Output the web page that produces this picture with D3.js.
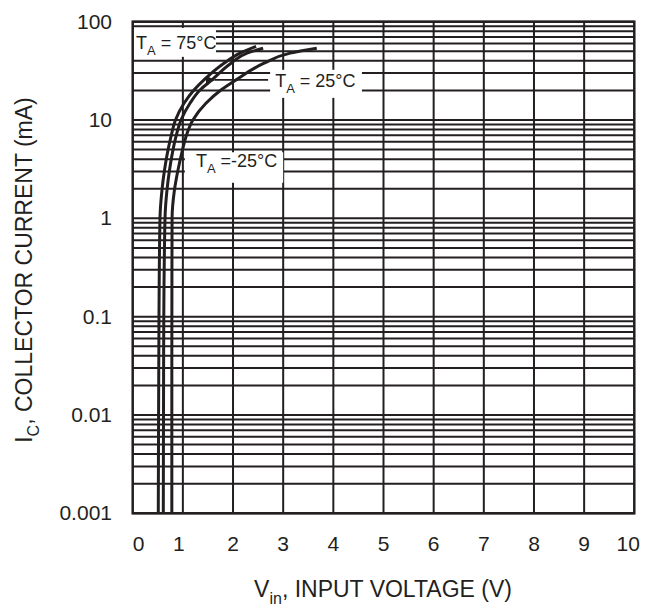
<!DOCTYPE html>
<html><head><meta charset="utf-8">
<script src="https://cdn.jsdelivr.net/npm/d3@7"></script>
<style>
html,body{margin:0;padding:0;background:#fff;}
text{font-family:Arial,"Liberation Sans",sans-serif;fill:#231f20;}
</style></head>
<body><svg id="chart" width="647" height="610"></svg>
<script>
// ---- data ----
const xTicks = [0,1,2,3,4,5,6,7,8,9,10];
const yTicks = [0.001,0.01,0.1,1,10,100];
const yTickLabels = ["0.001","0.01","0.1","1","10","100"];

// collector current (mA) read-off levels and input voltage (V) per curve
const currLevels = [0.001, 0.01, 0.1, 1, 1.95, 3.1, 4.97, 6.8, 10, 14.8, 20.2, 25.6, 37.8, 47.9];
const volt75  = [0.51, 0.516, 0.524, 0.544, 0.584, 0.634, 0.704, 0.764, 0.853, 1.023, 1.222, 1.421, 1.82, 2.14];
const volt25  = [0.61, 0.614, 0.620, 0.644, 0.684, 0.734, 0.803, 0.863, 0.963, 1.142, 1.342, 1.58,  1.96, 2.28];
const voltM25 = [0.78, 0.780, 0.781, 0.785, 0.833, 0.903, 0.993, 1.063, 1.20,  1.46,  1.76,  2.06,  2.62, 3.14];
// curve end points (V, mA)
const end75  = [2.46, 56.2];
const end25  = [2.60, 53.7];
const endM25 = [3.67, 53.7];

// ---- layout ----
const svg = d3.select("#chart");
const L = 132.7, R = 634.3, T = 21.7, B = 513.3;
const ink = "#231f20";
const x = d3.scaleLinear().domain([0,10]).range([L,R]);
const y = d3.scaleLog().domain([0.001,100]).range([B,T]);

// grid
const g = svg.append("g");
const minor = [];
[0.001,0.01,0.1,1,10].forEach(d=>{ for(let k=1;k<=9;k++) minor.push(k*d); });
minor.push(100);
g.selectAll("line.h").data(minor).join("line")
  .attr("x1",L).attr("x2",R).attr("y1",d=>y(d)).attr("y2",d=>y(d))
  .attr("stroke",ink).attr("stroke-width",2);
g.selectAll("line.v").data(xTicks.slice(1,-1)).join("line")
  .attr("y1",T).attr("y2",B).attr("x1",d=>x(d)).attr("x2",d=>x(d))
  .attr("stroke",ink).attr("stroke-width",2);

// annotation boxes (white, hide grid)
const boxes = [
  {x0:0.006, x1:1.66, y0:86.5, y1:43.9},
  {x0:2.74,  x1:4.57, y0:32.4, y1:16.8},
  {x0:1.04,  x1:3.0,  y0:4.7,  y1:2.3}
];
svg.selectAll("rect.box").data(boxes).join("rect")
  .attr("x",d=>x(d.x0)).attr("width",d=>x(d.x1)-x(d.x0))
  .attr("y",d=>y(d.y0)).attr("height",d=>y(d.y1)-y(d.y0))
  .attr("fill","#fff");

// frame
svg.append("rect").attr("x",L).attr("y",T).attr("width",R-L).attr("height",B-T)
  .attr("fill","none").attr("stroke",ink).attr("stroke-width",2.5);

// curves
const mk = (v,e)=> d3.zip(v,currLevels).concat([e]);
const curves = [mk(volt75,end75), mk(volt25,end25), mk(voltM25,endM25)];
const line = d3.line().x(d=>x(d[0])).y(d=>y(d[1])).curve(d3.curveMonotoneY);
svg.selectAll("path.c").data(curves).join("path")
  .attr("d",line).attr("fill","none").attr("stroke",ink).attr("stroke-width",3);

// arrow
svg.append("defs").append("marker").attr("id","ah").attr("viewBox","0 0 10 10")
  .attr("refX",1).attr("refY",5).attr("markerWidth",10).attr("markerHeight",10)
  .attr("markerUnits","userSpaceOnUse").attr("orient","auto")
  .append("path").attr("d","M10,1 L0,5 L10,9 Z").attr("fill",ink);
svg.append("line").attr("x1",x(2.70)).attr("x2",x(1.64)).attr("y1",y(25.6)).attr("y2",y(25.6))
  .attr("stroke",ink).attr("stroke-width",1.8).attr("marker-end","url(#ah)");

// annotation texts
const anns = [
  {vx:0.066, vy:52.5, t:"75°C", sep:" = "},
  {vx:2.84,  vy:21.9, t:"25°C", sep:" = "},
  {vx:1.26,  vy:3.3,  t:"-25°C", sep:" ="}
];
anns.forEach(a=>{
  const tx = svg.append("text").attr("x",x(a.vx)).attr("y",y(a.vy)).attr("font-size",18);
  tx.append("tspan").text("T");
  tx.append("tspan").attr("font-size",13).attr("dy",6).text("A");
  tx.append("tspan").attr("dy",-6).text(a.sep + a.t);
});

// x tick labels
const xOff = {0:6, 1:-4, 10:-6};
svg.selectAll("text.xt").data(xTicks).join("text")
  .attr("x",d=>x(d)+(xOff[d]||0)).attr("y",551).attr("text-anchor","middle")
  .attr("font-size",21).text(d=>d);
// y tick labels
svg.selectAll("text.yt").data(yTicks).join("text")
  .attr("x",112).attr("y",d=>y(d)+7).attr("text-anchor","end")
  .attr("font-size",21).text((d,i)=>yTickLabels[i]);

// axis titles
const xt = svg.append("text").attr("x",383).attr("y",597).attr("text-anchor","middle").attr("font-size",23);
xt.append("tspan").text("V");
xt.append("tspan").attr("font-size",16).attr("dy",7).text("in");
xt.append("tspan").attr("dy",-7).text(", INPUT VOLTAGE (V)");

const yt = svg.append("text").attr("transform","translate(32,270) rotate(-90)").attr("text-anchor","middle").attr("font-size",23);
yt.append("tspan").text("I");
yt.append("tspan").attr("font-size",16).attr("dy",7).text("C");
yt.append("tspan").attr("dy",-7).text(", COLLECTOR CURRENT (mA)");
</script></body></html>
